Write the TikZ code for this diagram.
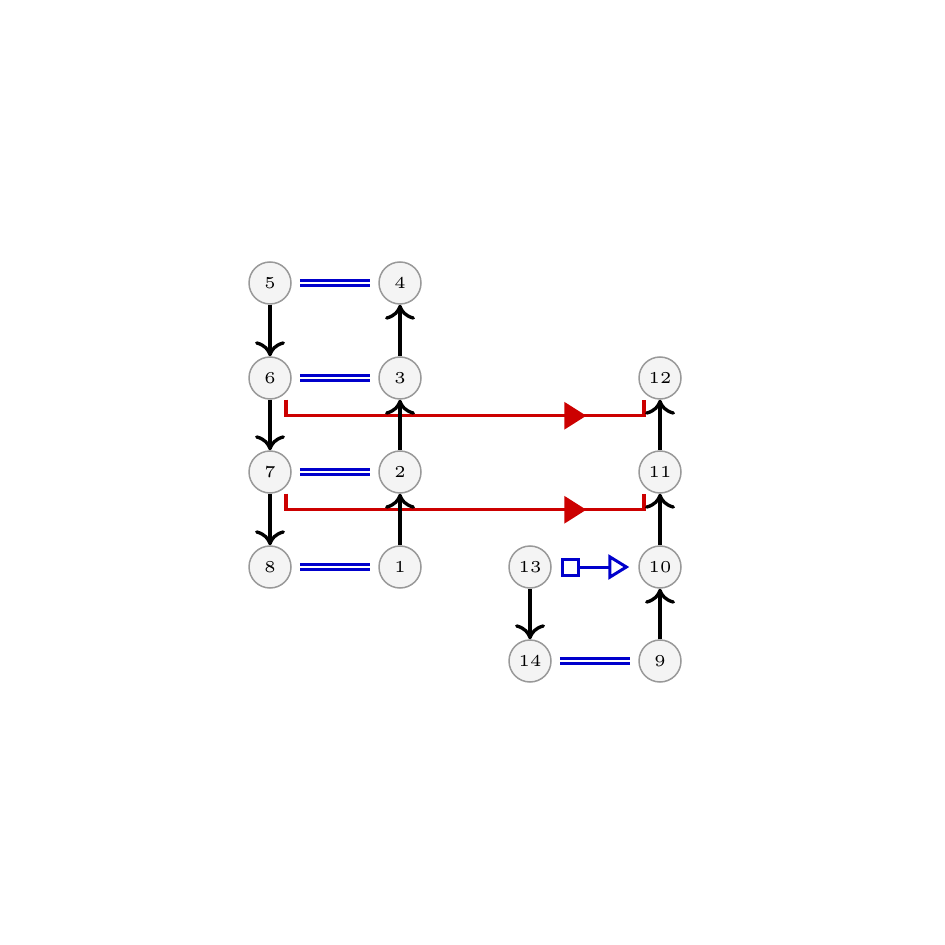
\documentclass[tikz,border=0pt]{standalone}
\usetikzlibrary{arrows.meta,calc,decorations.markings}
\definecolor{nodegray}{HTML}{999999}
\definecolor{nodefill}{HTML}{F4F4F4}
\definecolor{eqblue}{HTML}{0000CC}
\definecolor{redc}{HTML}{CC0000}
\begin{document}
\begin{tikzpicture}[x=0.3pt,y=-0.3pt,
  vtx/.style={circle,draw=nodegray,fill=nodefill,line width=0.45pt,minimum size=12.6pt,inner sep=0pt,font=\tiny},
  blk/.style={line width=1pt,-{Computer Modern Rightarrow[length=4.5pt,width=9pt]}},
  eqv/.style={draw=eqblue,double=white,double distance=0.65pt,line width=0.8pt,shorten <=2.4pt,shorten >=2.4pt},
  opn/.style={draw=eqblue,line width=0.9pt,{Square[open,length=5.7pt,width=5.7pt]}-{Triangle[open,length=6.3pt,width=7.5pt]},shorten <=2.7pt,shorten >=2.7pt},
  redl/.style={draw=redc,line width=0.95pt,postaction={decorate},
    decoration={markings,mark=at position 0.811 with {\arrow[redc]{Triangle[length=6.6pt,width=8.1pt]}}}}]
\useasboundingbox (0,0) rectangle (945,945);
\node[vtx] (n5) at (270,283) {5};
\node[vtx] (n4) at (400,283) {4};
\node[vtx] (n6) at (270,378) {6};
\node[vtx] (n3) at (400,378) {3};
\node[vtx] (n12) at (660,378) {12};
\node[vtx] (n7) at (270,472) {7};
\node[vtx] (n2) at (400,472) {2};
\node[vtx] (n11) at (660,472) {11};
\node[vtx] (n8) at (270,567) {8};
\node[vtx] (n1) at (400,567) {1};
\node[vtx] (n13) at (530,567) {13};
\node[vtx] (n10) at (660,567) {10};
\node[vtx] (n14) at (530,661) {14};
\node[vtx] (n9) at (660,661) {9};
% red connectors
\draw[redl] ($(n6.south)+(16,0)$) -- ++(0,16) -| ($(n12.south)+(-16,0)$);
\draw[redl] ($(n7.south)+(16,0)$) -- ++(0,16) -| ($(n11.south)+(-16,0)$);
% black arrows
\draw[blk] (n5) -- (n6);
\draw[blk] (n6) -- (n7);
\draw[blk] (n7) -- (n8);
\draw[blk] (n1) -- (n2);
\draw[blk] (n2) -- (n3);
\draw[blk] (n3) -- (n4);
\draw[blk] (n9) -- (n10);
\draw[blk] (n10) -- (n11);
\draw[blk] (n11) -- (n12);
\draw[blk] (n13) -- (n14);
% blue double lines
\draw[eqv] (n5) -- (n4);
\draw[eqv] (n6) -- (n3);
\draw[eqv] (n7) -- (n2);
\draw[eqv] (n8) -- (n1);
\draw[eqv] (n14) -- (n9);
% blue open connector
\draw[opn] (n13) -- (n10);
\end{tikzpicture}
\end{document}
